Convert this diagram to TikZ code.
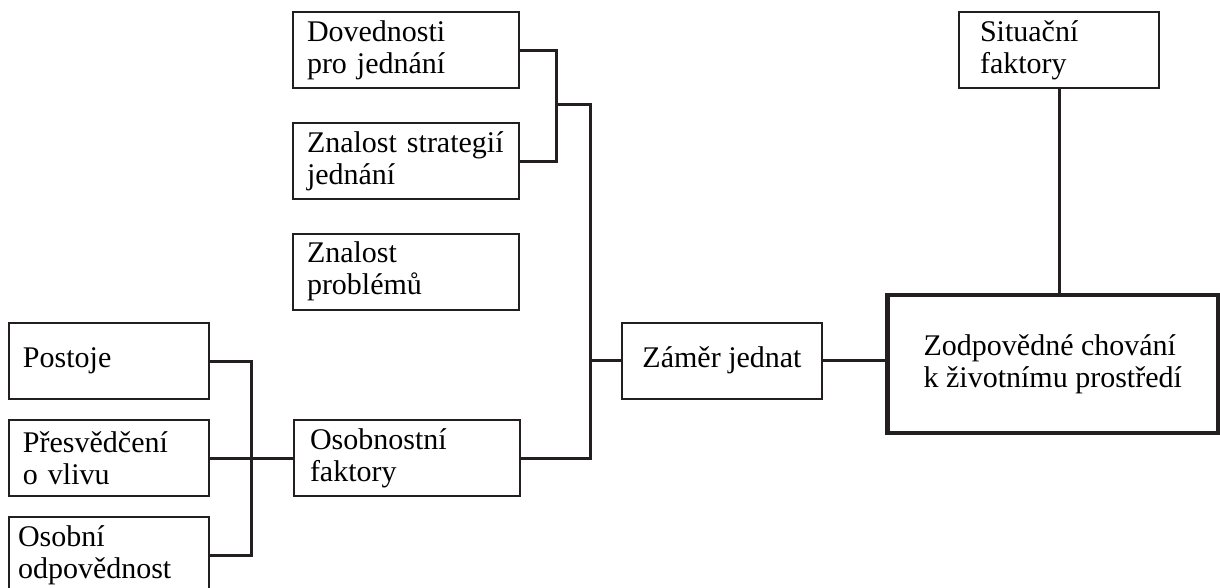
\documentclass[tikz,border=0pt]{standalone}
\usepackage{fontspec}
\setmainfont{Liberation Serif}
\usepackage{xcolor}
\usepackage{tikz}
\usetikzlibrary{positioning,calc}
\definecolor{ink}{RGB}{35,31,32}

\begin{document}
\begin{tikzpicture}[x=1pt, y=-1pt,
  box/.style={draw=ink, line width=2pt, minimum width=200pt, minimum height=76pt, inner ysep=0pt, font=\fontsize{30}{32}\selectfont},
  lbox/.style={box, align=left, inner xsep=14pt, text width=172pt},
  wide/.style={text width=198pt},
  mainbox/.style={box, line width=4.5pt, minimum width=331pt, minimum height=138pt, align=left},
  wire/.style={draw=ink, line width=3pt}]
\useasboundingbox (0,0) rectangle (1220,588);

% left column
\node[lbox] (postoje) at (109,361) {Postoje};
\node[lbox, below=19pt of postoje] (presvedceni) {Přesvědčení\\o vlivu};
\node[lbox, below=19pt of presvedceni, inner xsep=9pt, text width=182pt] (osobni) {Osobní\\odpovědnost};

% middle column
\node[lbox, wide] (dovednosti) at (406,50.5) {Dovednosti\\pro jednání};
\node[lbox, wide, below=33pt of dovednosti] (strategie) {Znalost strategií\\jednání};
\node[lbox, wide, below=32pt of strategie] (problemy) {Znalost\\problémů};
\node[lbox, right=83pt of presvedceni, inner xsep=16pt, text width=194pt] (osobnostni) {Osobnostní\\faktory};

% right part
\node[box] (zamer) at (722,360.5) {Záměr jednat};
\node[mainbox, right=62pt of zamer, yshift=-3.5pt] (chovani) {Zodpovědné chování\\k životnímu prostředí};
\node[lbox, inner xsep=21pt, text width=158pt] (situacni) at (1059,50.5) {Situační\\faktory};

\coordinate (split) at (555,105);
\coordinate (trunk) at (590,105);

\draw[wire] (postoje.east) -- ++(41,0) |- (osobni.east);
\draw[wire] (presvedceni) -- (osobnostni);
\draw[wire] (dovednosti.east) -- ++(36,0) |- (strategie.east);
\draw[wire] (osobnostni.east) -| (trunk) -- (split);
\draw[wire] (zamer.west) -- (zamer.west -| trunk);
\draw[wire] (zamer.east) -- (zamer.east -| chovani.west);
\draw[wire] (situacni.south) -- (situacni.south |- chovani.north);
\end{tikzpicture}
\end{document}
